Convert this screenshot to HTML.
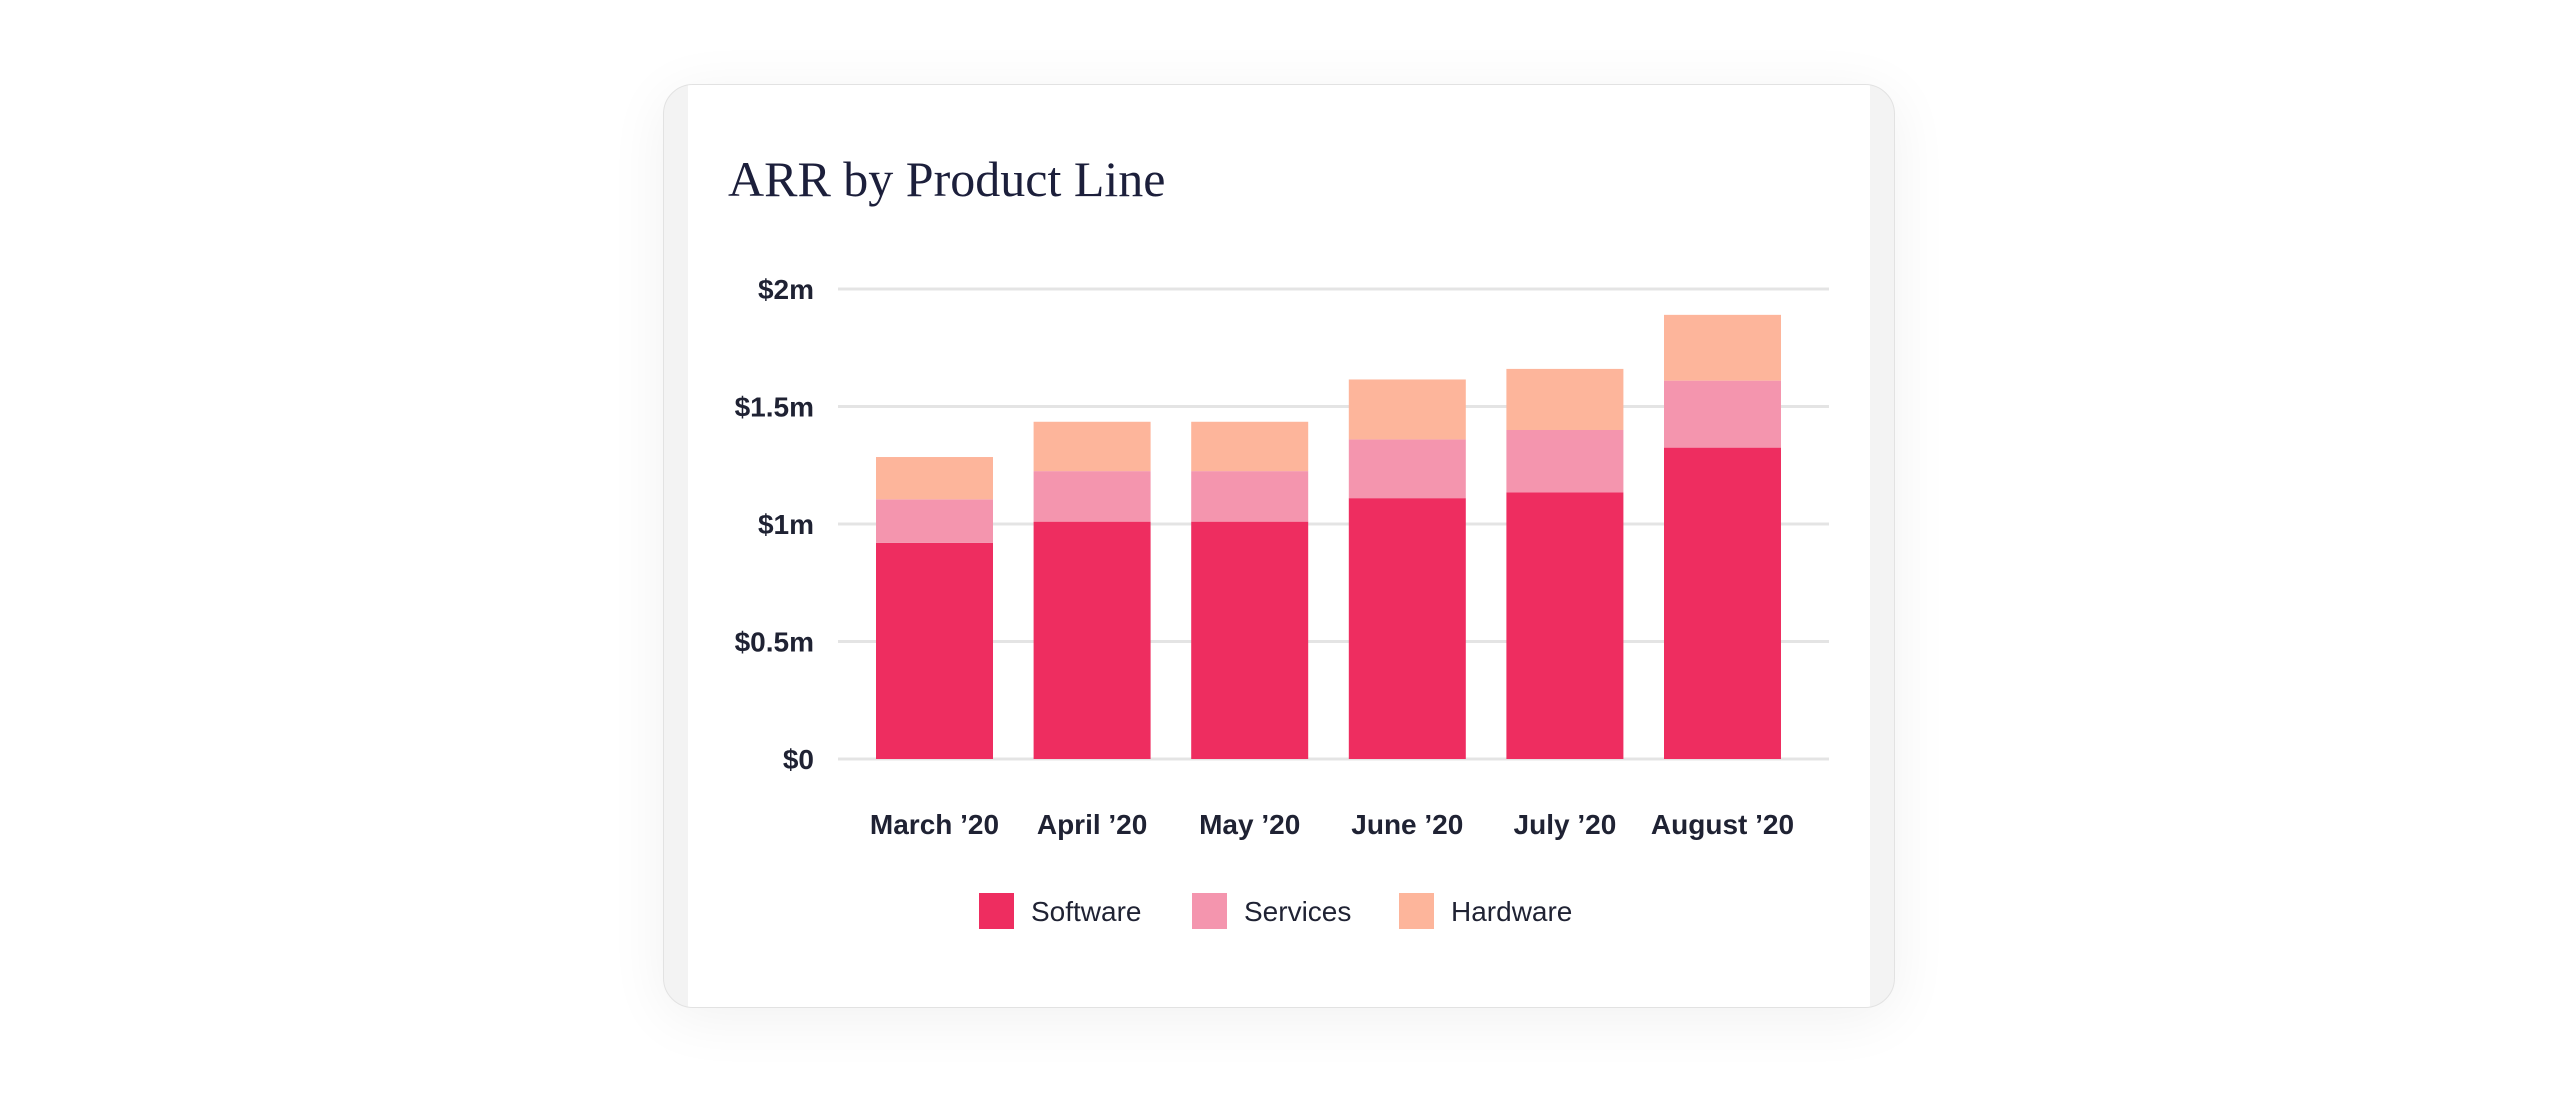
<!DOCTYPE html>
<html><head><meta charset="utf-8"><style>
html,body{margin:0;padding:0;background:#fff;width:2560px;height:1102px;overflow:hidden;font-family:"Liberation Sans",sans-serif}
#card{position:absolute;left:663px;top:84px;width:1230px;height:922px;border-radius:30px;background:#f3f3f3;border:1px solid #e2e2e2;box-shadow:0 10px 60px rgba(0,0,0,0.06);overflow:hidden}
#inner{position:absolute;left:24px;right:24px;top:0;bottom:0;background:#fff}
#title{position:absolute;left:728px;top:150px;font-family:"Liberation Serif",serif;font-size:50px;color:#1c1f3b;margin:0;font-weight:normal;white-space:nowrap}
svg{position:absolute;left:0;top:0}
</style></head><body>
<div id="card"><div id="inner"></div></div>
<h1 id="title">ARR by Product Line</h1>
<svg id="chart" width="2560" height="1102"></svg>
<script>
const categories=["March '20","April '20","May '20","June '20","July '20","August '20"];
const software=[0.92,1.01,1.01,1.11,1.135,1.325];
const services=[0.185,0.215,0.215,0.25,0.265,0.285];
const hardware=[0.18,0.21,0.21,0.255,0.26,0.28];
const tickValues=[0,0.5,1,1.5,2];
const tickLabels=["$0","$0.5m","$1m","$1.5m","$2m"];
const seriesNames=["Software","Services","Hardware"];
const colors=["#ee2d60","#f495ae","#fdb59b"];
const NS="http://www.w3.org/2000/svg";
const svg=document.getElementById('chart');
const y0=759,pxPerM=235,x0=934.5,pitch=157.6,bw=117;
const y=v=>y0-v*pxPerM;
const x=i=>x0+i*pitch;
function mk(t,a){const e=document.createElementNS(NS,t);for(const k in a)e.setAttribute(k,a[k]);svg.appendChild(e);return e;}
tickValues.forEach((v,i)=>{
 const l=mk('line',{x1:838,x2:1829,y1:y(v),y2:y(v),stroke:'#e4e4e4','stroke-width':3});
 
 
 const t=mk('text',{x:814,y:y(v)+10,'text-anchor':'end','font-size':28,'font-weight':'bold',fill:'#1f2233'});
 t.textContent=tickLabels[i];
 
 
});
const series=[software,services,hardware];
categories.forEach((c,i)=>{
 let base=0;
 series.forEach((s,k)=>{
  const r=mk('rect',{x:x(i)-bw/2,y:y(base+s[i]),width:bw,height:s[i]*pxPerM,fill:colors[k]});
  
  
  base+=s[i];
 });
 const t=mk('text',{x:x(i),y:834,'text-anchor':'middle','font-size':28,'font-weight':'bold',fill:'#1f2233'});
 t.textContent=c.replace("'","\u2019");
 
 
});
const legX=[979,1192,1399];
seriesNames.forEach((n,k)=>{
 const r=mk('rect',{x:legX[k],y:893,width:35,height:36,fill:colors[k]});
 
 
 const t=mk('text',{x:legX[k]+52,y:921,'font-size':28,fill:'#1f2233'});
 t.textContent=n;
 
 
});
</script>
</body></html>
